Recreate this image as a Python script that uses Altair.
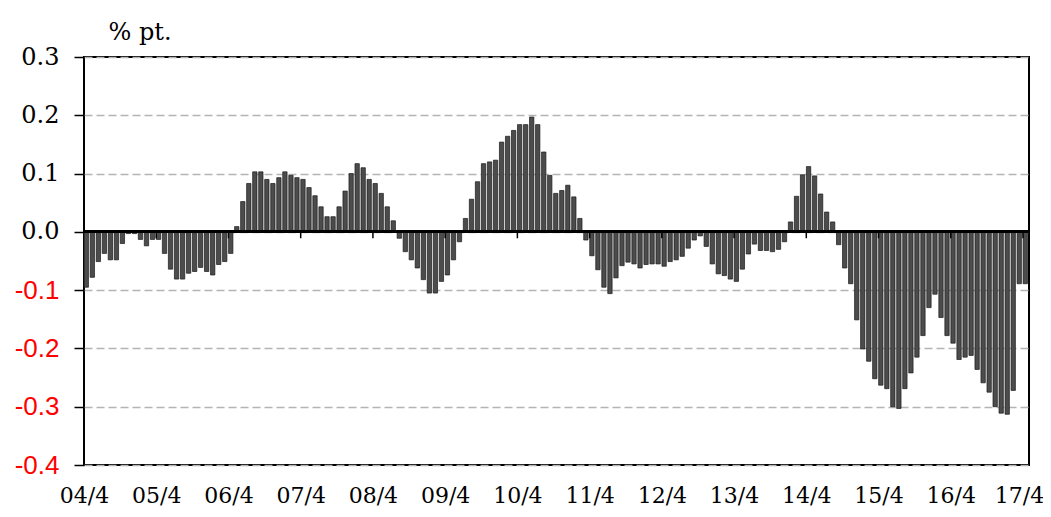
import altair as alt
import pandas as pd

# Monthly values (% pt.), 2004/4 .. 2017/4
values = [
    -0.095, -0.078, -0.051, -0.037, -0.048, -0.048, -0.020, -0.003, -0.003, -0.013,
    -0.024, -0.013, -0.013, -0.037, -0.064, -0.081, -0.081, -0.071, -0.068, -0.061,
    -0.068, -0.074, -0.056, -0.051, -0.037, 0.009, 0.052, 0.083, 0.103, 0.103,
    0.090, 0.083, 0.093, 0.103, 0.097, 0.093, 0.090, 0.076, 0.062, 0.043,
    0.026, 0.026, 0.043, 0.070, 0.100, 0.117, 0.110, 0.090, 0.083, 0.066,
    0.043, 0.019, -0.011, -0.034, -0.048, -0.062, -0.082, -0.105, -0.105, -0.085,
    -0.074, -0.048, -0.017, 0.023, 0.056, 0.086, 0.117, 0.120, 0.123, 0.154,
    0.164, 0.174, 0.184, 0.184, 0.197, 0.184, 0.137, 0.097, 0.066, 0.071,
    0.080, 0.060, 0.023, -0.014, -0.041, -0.065, -0.095, -0.106, -0.079, -0.058,
    -0.052, -0.055, -0.062, -0.056, -0.055, -0.055, -0.059, -0.051, -0.048, -0.042,
    -0.028, -0.014, -0.007, -0.025, -0.055, -0.072, -0.075, -0.081, -0.085, -0.064,
    -0.038, -0.021, -0.032, -0.032, -0.034, -0.030, -0.017, 0.017, 0.061, 0.098,
    0.112, 0.096, 0.065, 0.034, 0.017, -0.022, -0.062, -0.089, -0.151, -0.201,
    -0.222, -0.252, -0.263, -0.269, -0.300, -0.303, -0.269, -0.242, -0.215, -0.178,
    -0.130, -0.107, -0.147, -0.178, -0.191, -0.219, -0.215, -0.212, -0.236, -0.259,
    -0.275, -0.300, -0.311, -0.313, -0.272, -0.089, -0.089,
]
month_index = list(range(len(values)))
year_positions = list(range(0, 157, 12))        # 04/4 ... 17/4
inner_year_positions = list(range(12, 157, 12))
y_ticks = [0.3, 0.2, 0.1, 0.0, -0.1, -0.2, -0.3, -0.4]

df = pd.DataFrame({"m": month_index, "v": values})
ticks_df = pd.DataFrame({"p": inner_year_positions})

x_scale = alt.Scale(domain=[0, 157], nice=False, zero=False)
y_scale = alt.Scale(domain=[-0.4, 0.3], nice=False, zero=False)

x_axis = alt.Axis(
    values=year_positions,
    labelExpr="(floor(datum.value/12)+4 < 10 ? '0' : '') + (floor(datum.value/12)+4) + '/4'",
    ticks=False, tickSize=0, domain=False, grid=False,
    labelFont="DejaVu Serif", labelFontSize=22, labelColor="black",
    labelPadding=37, labelBaseline="alphabetic", labelAlign="center",
    labelOffset={"condition": {"test": "datum.value > 150", "value": -4}, "value": 0},
    labelFlush=False, labelOverlap=False, title=None,
)
y_axis = alt.Axis(
    values=y_ticks,
    labelExpr="(datum.value < -0.001 ? '-' : '') + format(abs(datum.value), '.1f')",
    tickSize=10, tickWidth=1.5, tickColor="black", domain=False,
    grid=True, gridColor="#b4b4b4", gridDash=[8, 4], gridWidth=1.3,
    labelPadding=15,
    labelColor={"condition": {"test": "datum.value < -0.001", "value": "#ff0000"}, "value": "black"},
    labelFont={"condition": {"test": "datum.value < -0.001", "value": "Liberation Sans"}, "value": "DejaVu Serif"},
    labelFontSize={"condition": {"test": "datum.value < -0.001", "value": 26}, "value": 24},
    title="% pt.", titleAngle=0, titleAlign="left", titleBaseline="alphabetic",
    titleX=24, titleY=-18, titleFont="DejaVu Serif", titleFontSize=24,
    titleFontWeight="normal", titleColor="black",
)

bars = alt.Chart(df).transform_calculate(
    x0="datum.m + 0.02", x1="datum.m + 0.74"
).mark_bar(color="#4c4c4c", stroke="#1a1a1a", strokeWidth=0.7).encode(
    x=alt.X("x0:Q", scale=x_scale, axis=x_axis),
    x2="x1:Q",
    y=alt.Y("v:Q", scale=y_scale, axis=y_axis),
    y2=alt.datum(0),
)

zero_line = alt.Chart(df).mark_rule(color="black", strokeWidth=2).encode(
    y=alt.datum(0, scale=y_scale)
)

year_ticks = alt.Chart(ticks_df).mark_rule(color="black", strokeWidth=1.5).encode(
    x=alt.X("p:Q", scale=x_scale, axis=x_axis),
    y=alt.datum(0),
    y2=alt.datum(-0.011),
)

chart = alt.layer(bars, zero_line, year_ticks).properties(
    width=945, height=408,
    autosize="none",
    padding={"left": 76, "top": 49, "right": 14, "bottom": 44},
).configure_view(stroke="black", strokeWidth=2)

chart.save("out.html", embed_options={"renderer": "svg", "actions": False})
